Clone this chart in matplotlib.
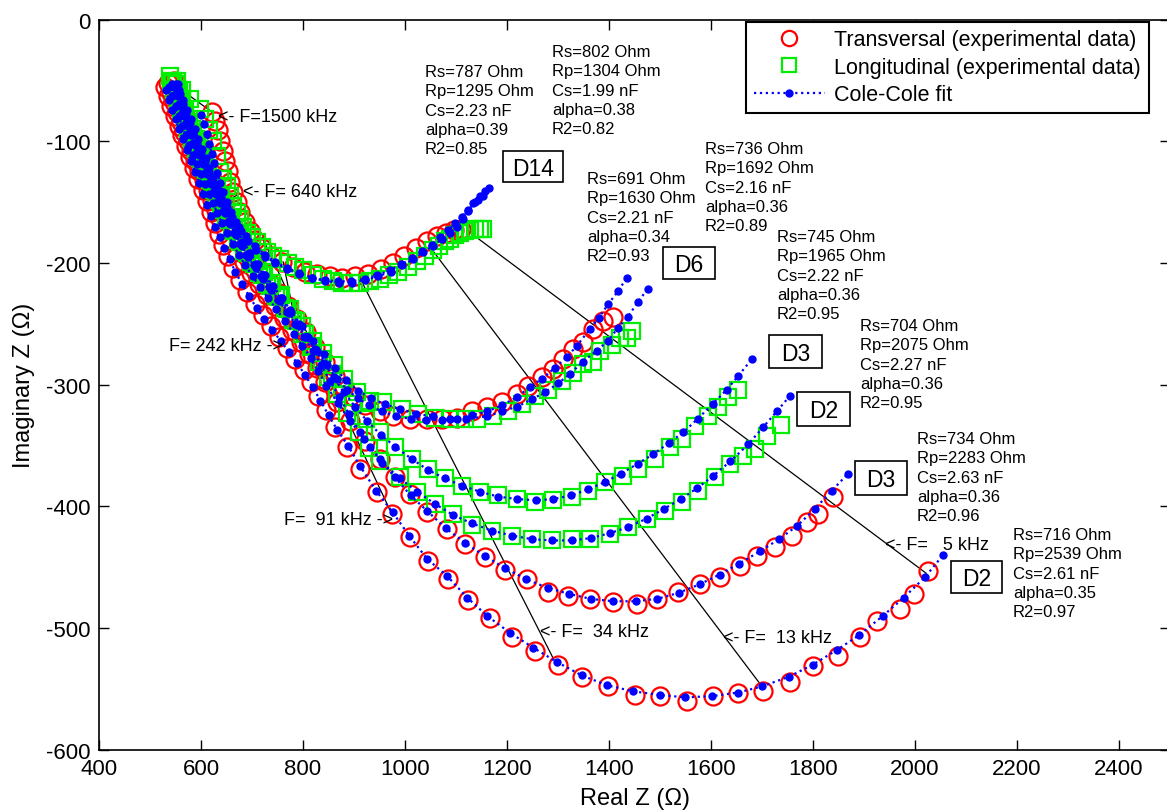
import matplotlib
matplotlib.use('Agg')
import matplotlib.pyplot as plt
from matplotlib.lines import Line2D
from matplotlib.patches import Rectangle

plt.rcParams['font.family'] = ['Liberation Sans', 'DejaVu Sans']
plt.rcParams['axes.unicode_minus'] = False

# ---------------- data (Ohm) ----------------
# Transversal D2 : experimental points and Cole-Cole fit
D2T_data = [(529,-55),(535,-63),(542,-71),(549,-79),(556,-87),(563,-95),(571,-104),(579,-113),(587,-122),(595,-131),(603,-140),(611,-149),(619,-158),(627,-167),(635,-176),(643,-185),(652,-194),(663,-204),(676,-214),(691,-224),(706,-234),(721,-243),(737,-252),(753,-261),(769,-270),(785,-279),(801,-288),(816,-298),(830,-309),(845,-321),(862,-335),(886,-351),(912,-369),(945,-388),(975,-406),(1010,-425),(1045,-445),(1084,-460),(1124,-477),(1167,-492),(1210,-507),(1255,-519),(1300,-530),(1347,-540),(1398,-548),(1451,-555),(1500,-556),(1553,-560),(1604,-556),(1653,-553),(1702,-552),(1755,-544),(1800,-531),(1849,-523),(1892,-507),(1925,-494),(1971,-484),(1998,-472),(2025,-453)]
D2T_fit = [(531,-58),(537,-66),(543,-74),(550,-82),(557,-90),(564,-98),(572,-107),(580,-116),(588,-125),(596,-134),(604,-143),(612,-152),(620,-161),(628,-170),(637,-179),(646,-188),(656,-197),(667,-207),(680,-217),(694,-227),(709,-237),(724,-246),(740,-255),(756,-264),(772,-273),(788,-282),(804,-292),(819,-302),(834,-313),(850,-325),(867,-337),(888,-350),(912,-367),(943,-387),(976,-405),(1008,-424),(1043,-443),(1082,-457),(1122,-475),(1161,-490),(1206,-504),(1251,-516),(1298,-528),(1347,-539),(1396,-547),(1447,-552),(1500,-555),(1549,-557),(1602,-556),(1653,-553),(1700,-548),(1753,-540),(1800,-530),(1847,-518),(1890,-506),(1937,-490),(1978,-475),(2020,-458),(2055,-440)]

# Transversal D3
D3T_data = [(536,-52),(541,-60),(547,-68),(553,-76),(560,-84),(567,-92),(574,-100),(581,-108),(589,-116),(597,-124),(605,-132),(613,-140),(621,-148),(629,-156),(638,-164),(648,-172),(659,-181),(671,-190),(684,-199),(698,-208),(713,-217),(729,-226),(745,-235),(762,-245),(779,-255),(796,-265),(812,-275),(828,-286),(843,-298),(867,-314),(892,-330),(922,-346),(951,-361),(980,-376),(1010,-390),(1043,-405),(1082,-419),(1118,-431),(1157,-442),(1196,-452),(1239,-460),(1280,-470),(1320,-474),(1363,-476),(1408,-479),(1455,-480),(1494,-476),(1535,-470),(1578,-464),(1618,-458),(1657,-449),(1690,-441),(1725,-433),(1759,-424),(1788,-413),(1810,-406),(1839,-392)]
D3T_fit = [(538,-55),(544,-63),(550,-71),(556,-79),(563,-87),(570,-95),(577,-103),(584,-111),(592,-119),(600,-127),(608,-135),(616,-143),(624,-151),(632,-159),(641,-167),(651,-175),(662,-184),(674,-193),(687,-202),(701,-211),(716,-220),(732,-229),(748,-238),(765,-248),(782,-258),(799,-268),(815,-278),(830,-289),(846,-301),(868,-315),(893,-330),(920,-345),(950,-361),(980,-376),(1011,-391),(1044,-404),(1080,-418),(1118,-430),(1157,-441),(1197,-451),(1238,-460),(1280,-467),(1322,-472),(1364,-476),(1408,-478),(1452,-478),(1495,-476),(1537,-471),(1578,-464),(1617,-456),(1655,-447),(1696,-437),(1733,-427),(1769,-416),(1804,-402),(1837,-387),(1869,-373)]

# Longitudinal D2
D2L_data = [(542,-50),(548,-58),(554,-66),(561,-74),(568,-82),(575,-90),(582,-98),(590,-106),(598,-114),(606,-122),(614,-130),(622,-138),(630,-146),(639,-154),(649,-163),(660,-172),(672,-181),(685,-190),(699,-199),(714,-208),(730,-217),(747,-227),(764,-237),(781,-247),(798,-258),(815,-269),(832,-281),(849,-294),(867,-308),(887,-323),(909,-339),(930,-352),(951,-363),(990,-376),(1024,-388),(1059,-398),(1094,-406),(1131,-415),(1171,-420),(1210,-424),(1249,-427),(1288,-428),(1327,-427),(1363,-427),(1402,-423),(1437,-417),(1475,-410),(1510,-404),(1543,-396),(1575,-387),(1608,-376),(1637,-365),(1663,-359),(1686,-353),(1710,-342),(1737,-333)]
D2L_fit = [(544,-53),(550,-61),(556,-69),(563,-77),(570,-85),(577,-93),(585,-101),(593,-109),(601,-117),(609,-125),(617,-133),(625,-141),(634,-149),(643,-157),(653,-166),(664,-175),(676,-184),(689,-193),(703,-202),(718,-211),(734,-220),(751,-230),(768,-240),(785,-250),(802,-261),(819,-272),(836,-284),(853,-297),(871,-310),(890,-324),(911,-339),(932,-351),(955,-364),(990,-377),(1024,-388),(1059,-398),(1094,-407),(1131,-414),(1171,-420),(1210,-424),(1249,-427),(1288,-428),(1327,-428),(1365,-426),(1402,-422),(1438,-417),(1474,-410),(1508,-402),(1541,-394),(1573,-385),(1604,-375),(1638,-363),(1673,-349),(1702,-335),(1729,-322),(1755,-309)]

# Longitudinal D3
D3L_data = [(546,-52),(552,-60),(558,-68),(565,-76),(572,-84),(579,-92),(586,-100),(594,-108),(602,-116),(610,-124),(618,-132),(626,-140),(635,-148),(644,-156),(654,-165),(665,-174),(677,-183),(690,-192),(704,-201),(719,-210),(735,-219),(752,-228),(769,-238),(786,-248),(803,-258),(820,-268),(838,-279),(857,-291),(877,-303),(899,-316),(923,-328),(951,-339),(980,-351),(1014,-361),(1045,-369),(1078,-377),(1112,-383),(1147,-388),(1182,-391),(1220,-394),(1255,-396),(1290,-395),(1327,-392),(1359,-387),(1392,-380),(1427,-375),(1457,-369),(1490,-361),(1520,-351),(1543,-345),(1569,-334),(1594,-326),(1614,-318),(1633,-310),(1653,-304)]
D3L_fit = [(548,-55),(554,-63),(560,-71),(567,-79),(574,-87),(581,-95),(588,-103),(596,-111),(604,-119),(612,-127),(620,-135),(629,-143),(638,-151),(647,-159),(657,-168),(668,-177),(680,-186),(693,-195),(707,-204),(722,-213),(738,-222),(755,-231),(772,-241),(789,-251),(806,-261),(823,-271),(841,-282),(860,-294),(880,-306),(902,-318),(926,-330),(952,-341),(981,-351),(1013,-361),(1045,-370),(1078,-377),(1112,-383),(1147,-388),(1183,-392),(1220,-394),(1256,-395),(1291,-394),(1326,-391),(1359,-386),(1392,-380),(1424,-373),(1456,-365),(1487,-357),(1517,-348),(1546,-339),(1574,-328),(1603,-316),(1631,-304),(1653,-293),(1680,-279)]

# Transversal D6
D6T_data = [(548,-50),(553,-58),(559,-66),(565,-74),(572,-82),(579,-90),(586,-98),(594,-106),(602,-114),(610,-122),(618,-130),(626,-138),(635,-146),(644,-154),(654,-162),(665,-171),(677,-180),(690,-189),(704,-198),(719,-207),(735,-216),(752,-225),(770,-235),(788,-246),(806,-257),(824,-269),(843,-281),(862,-293),(880,-302),(900,-310),(922,-317),(951,-322),(976,-326),(1010,-328),(1043,-328),(1073,-328),(1102,-327),(1131,-322),(1161,-318),(1190,-314),(1220,-308),(1241,-301),(1269,-294),(1290,-287),(1310,-279),(1329,-271),(1349,-265),(1369,-254),(1388,-248),(1408,-244)]
D6T_fit = [(550,-53),(556,-61),(562,-69),(568,-77),(575,-85),(582,-93),(589,-101),(597,-109),(605,-117),(613,-125),(621,-133),(630,-141),(639,-149),(648,-157),(658,-165),(669,-174),(681,-183),(694,-192),(708,-201),(723,-210),(739,-219),(756,-229),(774,-239),(792,-250),(810,-261),(828,-272),(847,-284),(866,-295),(886,-304),(907,-311),(930,-317),(955,-322),(982,-326),(1011,-328),(1041,-329),(1072,-329),(1102,-328),(1132,-325),(1161,-322),(1190,-317),(1220,-310),(1245,-302),(1269,-295),(1294,-286),(1318,-277),(1337,-268),(1363,-254),(1380,-245),(1398,-234),(1418,-223),(1435,-212)]

# Longitudinal D6
D6L_data = [(552,-50),(557,-58),(563,-66),(569,-74),(576,-82),(583,-90),(590,-98),(598,-106),(606,-114),(614,-122),(622,-130),(631,-138),(640,-146),(649,-154),(659,-162),(670,-171),(682,-180),(695,-189),(709,-198),(724,-207),(740,-216),(757,-226),(775,-238),(798,-252),(820,-264),(840,-274),(860,-284),(880,-295),(906,-306),(931,-313),(957,-314),(994,-320),(1025,-324),(1059,-327),(1088,-328),(1118,-328),(1141,-328),(1173,-326),(1202,-322),(1229,-316),(1255,-309),(1280,-304),(1308,-297),(1329,-290),(1349,-283),(1369,-281),(1382,-272),(1406,-267),(1422,-262),(1435,-262),(1445,-256)]
D6L_fit = [(554,-53),(559,-61),(565,-69),(571,-77),(578,-85),(585,-93),(592,-101),(600,-109),(608,-117),(616,-125),(624,-133),(633,-141),(642,-149),(651,-157),(661,-165),(672,-174),(684,-183),(697,-192),(711,-201),(726,-210),(742,-219),(759,-229),(777,-240),(798,-252),(820,-264),(841,-275),(862,-286),(884,-296),(908,-305),(933,-311),(960,-316),(990,-320),(1022,-324),(1055,-326),(1088,-328),(1120,-328),(1161,-326),(1190,-322),(1220,-318),(1249,-312),(1275,-306),(1300,-299),(1324,-291),(1349,-281),(1376,-272),(1398,-264),(1418,-253),(1437,-244),(1457,-232),(1476,-221)]

# Transversal D14
D14T_data = [(622,-76),(627,-83),(633,-91),(637,-100),(643,-108),(647,-116),(653,-124),(657,-133),(663,-142),(670,-150),(676,-158),(686,-166),(696,-174),(706,-181),(720,-188),(738,-194),(758,-199),(780,-203),(803,-207),(827,-209),(852,-211),(877,-212),(902,-211),(927,-209),(952,-205),(976,-200),(999,-194),(1021,-188),(1043,-182),(1063,-178),(1080,-175),(1096,-173),(1110,-172)]
D14T_fit = [(600,-78),(606,-86),(611,-94),(616,-102),(621,-110),(626,-118),(632,-126),(638,-134),(644,-142),(651,-150),(659,-158),(668,-166),(679,-174),(692,-182),(708,-189),(726,-195),(746,-200),(768,-205),(792,-209),(817,-212),(843,-214),(869,-215),(895,-215),(921,-213),(946,-210),(970,-206),(993,-201),(1014,-196),(1034,-190),(1052,-185),(1069,-179),(1085,-173),(1099,-167),(1112,-162),(1124,-156),(1137,-150),(1147,-145),(1157,-141),(1165,-138)]

# Longitudinal D14
D14L_data = [(539,-46),(550,-53),(562,-58),(578,-65),(598,-73),(608,-82),(616,-91),(624,-100),(631,-112),(637,-125),(644,-131),(651,-137),(657,-145),(663,-153),(670,-159),(676,-164),(683,-170),(690,-175),(700,-179),(710,-183),(720,-187),(729,-191),(742,-194),(755,-197),(770,-200),(785,-203),(800,-206),(820,-210),(839,-213),(858,-215),(876,-216),(894,-216),(912,-216),(932,-215),(951,-213),(969,-210),(986,-207),(1005,-203),(1024,-198),(1040,-194),(1055,-189),(1067,-186),(1078,-182),(1088,-180),(1098,-177),(1108,-175),(1118,-174),(1127,-173),(1138,-172),(1147,-172),(1153,-172)]
D14L_fit = [(556,-58),(564,-66),(572,-74),(580,-82),(588,-90),(595,-98),(602,-106),(609,-114),(616,-122),(623,-130),(631,-138),(640,-146),(650,-154),(661,-162),(674,-170),(689,-178),(706,-186),(725,-193),(746,-199),(769,-204),(793,-208),(818,-212),(844,-215),(870,-216),(896,-216),(922,-214),(948,-211),(972,-207),(995,-202),(1016,-197),(1036,-191),(1055,-186),(1073,-180),(1088,-175),(1102,-170),(1114,-164),(1124,-157),(1134,-151),(1144,-148),(1153,-145)]

# iso-frequency guide lines (start point, end point)
freq_khz = [1500, 640, 242, 91, 34, 13, 5]
freq_x0 = [533, 614, 761, 720, 916, 1053, 1131]
freq_y0 = [-49, -157, -199, -179, -216, -189, -176]
freq_x1 = [622, 676, 794, 976, 1298, 1700, 2022]
freq_y1 = [-76, -143, -267, -408, -531, -548, -455]

# Cole-Cole fit parameters
fit_rs = [787, 802, 691, 736, 745, 704, 734, 716]
fit_rp = [1295, 1304, 1630, 1692, 1965, 2075, 2283, 2539]
fit_cs = [2.23, 1.99, 2.21, 2.16, 2.22, 2.27, 2.63, 2.61]
fit_alpha = [0.39, 0.38, 0.34, 0.36, 0.36, 0.36, 0.36, 0.35]
fit_r2 = [0.85, 0.82, 0.93, 0.89, 0.95, 0.95, 0.96, 0.97]

sample_labels = ['D14', 'D6', 'D3', 'D2', 'D3', 'D2']

# ---------------- figure ----------------
W, H = 1167, 812
fig = plt.figure(figsize=(W / 100, H / 100), dpi=100)
AX_L, AX_R, AX_T, AX_B = 99, 1170, 20.7, 750.7
ax = fig.add_axes([AX_L / W, 1 - AX_B / H, (AX_R - AX_L) / W, (AX_B - AX_T) / H])
XMIN, XMAX, YMIN, YMAX = 400, 2500, -600, 0
ax.set_xlim(XMIN, XMAX)
ax.set_ylim(YMIN, YMAX)


def px(xp, yp):
    """pixel position in the picture -> data coordinates (layout helper)"""
    return (XMIN + (xp - AX_L) / (AX_R - AX_L) * (XMAX - XMIN),
            YMAX - (yp - AX_T) / (AX_B - AX_T) * (YMAX - YMIN))


def unzip(pts):
    return [p[0] for p in pts], [p[1] for p in pts]


RED = '#ff0000'
GREEN = '#00ee00'
BLUE = '#0000ff'

# guide lines
for x0, y0, x1, y1 in zip(freq_x0, freq_y0, freq_x1, freq_y1):
    ax.plot([x0, x1], [y0, y1], color='black', lw=0.9, zorder=2)

# experimental data
for pts in [D2T_data, D3T_data, D6T_data, D14T_data]:
    x, y = unzip(pts)
    ax.plot(x, y, ls='none', marker='o', ms=13, mfc='none', mec=RED, mew=1.6, zorder=3)
for pts in [D2L_data, D3L_data, D6L_data, D14L_data]:
    x, y = unzip(pts)
    ax.plot(x, y, ls='none', marker='s', ms=11.5, mfc='none', mec=GREEN, mew=1.6, zorder=3)

# fits
for pts in [D2T_fit, D3T_fit, D2L_fit, D3L_fit, D6T_fit, D6L_fit, D14T_fit, D14L_fit]:
    x, y = unzip(pts)
    ax.plot(x, y, color=BLUE, ls=':', lw=1.6, marker='o', ms=5, mec=BLUE, mfc=BLUE, zorder=4)

# parameter text blocks (cap-top pixel positions)
block_px = [(425, 65), (552, 45), (587, 172), (705, 142), (777, 230), (860, 319), (917, 432), (1013, 528)]
for (bx, by), rs, rp, cs, al, r2 in zip(block_px, fit_rs, fit_rp, fit_cs, fit_alpha, fit_r2):
    lines = [f'Rs={rs} Ohm', f'Rp={rp} Ohm', f'Cs={cs:.2f} nF', f'alpha={al:.2f}', f'R2={r2:.2f}']
    for i, s in enumerate(lines):
        tx, ty = px(bx, by + 12 + i * 19.3)
        ax.text(tx, ty, s, fontsize=12, ha='left', va='baseline', zorder=5)

# sample label boxes (pixel boxes)
box_px = [(503, 152, 563, 183), (663, 248, 715, 280), (769, 336, 822, 369),
          (797, 393, 850, 427), (855, 462, 907, 496), (951, 562, 1002, 594)]
for lab, (x0p, y0p, x1p, y1p) in zip(sample_labels, box_px):
    bx0, by0 = px(x0p, y1p)
    bx1, by1 = px(x1p, y0p)
    ax.add_patch(Rectangle((bx0, by0), bx1 - bx0, by1 - by0, fill=True, fc='white',
                           ec='black', lw=1.2, zorder=5))
    cx, cy = px((x0p + x1p) / 2, (y0p + y1p) / 2 + 8.3)
    ax.text(cx, cy, lab, fontsize=16.5, ha='center', va='baseline', zorder=6)

# frequency labels
freq_text_px = [(218, 122, 'left'), (243, 197, 'left'), (283, 351, 'right'), (393, 525, 'right'),
                (540, 637, 'left'), (723, 643, 'left'), (885, 550, 'left')]
for f, (tx, ty, ha) in zip(freq_khz, freq_text_px):
    if ha == 'left':
        s = f'<- F={f:4d} kHz'
    else:
        s = f'F={f:4d} kHz ->'
    x, y = px(tx, ty)
    ax.text(x, y, s, fontsize=13, ha=ha, va='baseline', zorder=6)

# axes styling
ax.set_xticks([400, 600, 800, 1000, 1200, 1400, 1600, 1800, 2000, 2200, 2400])
ax.set_yticks([-600, -500, -400, -300, -200, -100, 0])
ax.tick_params(direction='in', length=7.5, width=1, top=True, right=True, labelsize=16, pad=6)
for sp in ax.spines.values():
    sp.set_linewidth(1.2)
ax.set_xlabel('Real Z (Ω)', fontsize=17, labelpad=6)
ax.set_ylabel('Imaginary Z (Ω)', fontsize=17, labelpad=8)

handles = [Line2D([], [], ls='none', marker='o', ms=11, mfc='none', mec=RED, mew=1.6),
           Line2D([], [], ls='none', marker='s', ms=10, mfc='none', mec=GREEN, mew=1.6),
           Line2D([], [], color=BLUE, ls=':', lw=1.6, marker='o', ms=5)]
labels = ['Transversal (experimental data)', 'Longitudinal (experimental data)', 'Cole-Cole fit']
leg = ax.legend(handles, labels, loc='upper right', bbox_to_anchor=(0.980, 0.997),
                fontsize=15.5, frameon=True, fancybox=False, edgecolor='black',
                handlelength=3.3, handletextpad=0.45, labelspacing=0.3, borderpad=0.35,
                borderaxespad=0, framealpha=1)
leg.get_frame().set_linewidth(1.5)
leg.set_zorder(10)

fig.savefig('out.png', dpi=100)
